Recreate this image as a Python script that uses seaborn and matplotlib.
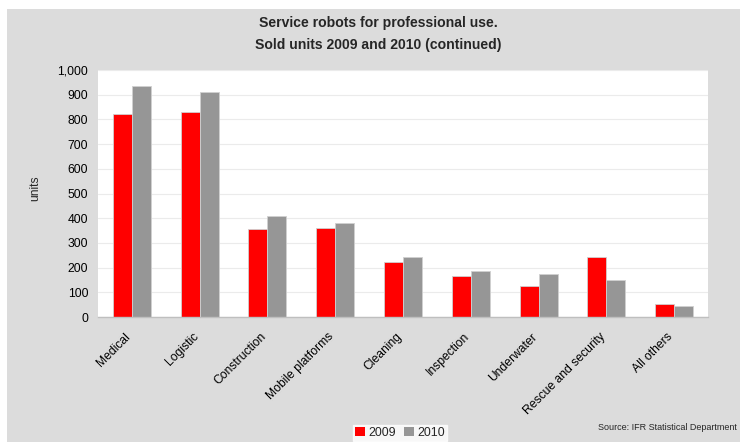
import matplotlib
matplotlib.use("Agg")
import matplotlib.pyplot as plt
import matplotlib.transforms as mtransforms
import seaborn as sns
import pandas as pd
from matplotlib.ticker import FuncFormatter, MultipleLocator
from matplotlib.patches import Patch, Rectangle

categories = ["Medical", "Logistic", "Construction", "Mobile platforms", "Cleaning",
              "Inspection", "Underwater", "Rescue and security", "All others"]
units_2009 = [820, 829, 357, 362, 221, 167, 126, 242, 52]
units_2010 = [934, 909, 407, 380, 242, 186, 174, 151, 45]
years = ["2009", "2010"]

df = pd.DataFrame({
    "category": categories * 2,
    "year": [years[0]] * len(categories) + [years[1]] * len(categories),
    "units": units_2009 + units_2010,
})

sns.set_theme(style="white")
plt.rcParams["font.family"] = ["Liberation Sans", "DejaVu Sans"]

bg = "#dcdcdc"
W, H = 740, 442
fig = plt.figure(figsize=(7.4, 4.42), dpi=100, facecolor="white")
fig.patches.append(Rectangle((7 / W, 0), 1 - 7 / W, 1 - 9 / H, transform=fig.transFigure,
                             facecolor=bg, edgecolor="none", zorder=-10))
ax = fig.add_axes([98 / W, 1 - 317 / H, 610 / W, 247 / H])
ax.set_facecolor("white")

sns.barplot(data=df, x="category", y="units", hue="year", order=categories,
            hue_order=years, palette={"2009": "#ff0000", "2010": "#969696"},
            saturation=1, width=0.56, gap=0, edgecolor="#d0d0d0", linewidth=0.6,
            ax=ax, legend=False)

ax.set_ylim(0, 1000)
ax.yaxis.set_major_locator(MultipleLocator(100))
ax.yaxis.set_major_formatter(FuncFormatter(lambda v, p: f"{int(v):,}"))
ax.grid(axis="y", color="#ebebeb", linewidth=0.8)
ax.set_axisbelow(True)
for s in ["top", "right", "left"]:
    ax.spines[s].set_visible(False)
ax.spines["bottom"].set_color("#bfbfbf")
ax.spines["bottom"].set_linewidth(1.0)
ax.tick_params(axis="y", length=0, labelsize=8.7, pad=7, colors="black")
ax.tick_params(axis="x", length=0, labelsize=8.7, pad=0, colors="black")
offset = mtransforms.ScaledTranslation(-3 / 100, -18 / 100, fig.dpi_scale_trans)
for lbl in ax.get_xticklabels():
    lbl.set_rotation(45)
    lbl.set_ha("right")
    lbl.set_va("center")
    lbl.set_rotation_mode("anchor")
    lbl.set_transform(lbl.get_transform() + offset)
ax.set_xlabel("")
ax.set_ylabel("")
fig.text(35 / W, 1 - 188 / H, "units", rotation=90, ha="center", va="center", fontsize=8.7)

fig.text(378 / W, 1 - 23.5 / H, "Service robots for professional use.",
         ha="center", va="center", fontsize=10.1, fontweight="bold")
fig.text(378 / W, 1 - 45.5 / H, "Sold units 2009 and 2010 (continued)",
         ha="center", va="center", fontsize=10.1, fontweight="bold")

fig.text(737 / W, 1 - 428 / H, "Source: IFR Statistical Department", ha="right",
         va="center", fontsize=6.5)

handles = [Patch(facecolor="#ff0000", edgecolor="none"), Patch(facecolor="#969696", edgecolor="none")]
leg = fig.legend(handles, years, loc="center", bbox_to_anchor=(400 / W, 1 - 433 / H),
                 ncol=2, frameon=True, fontsize=8.9, handlelength=0.8, handleheight=0.8,
                 handletextpad=0.3, columnspacing=0.6, borderpad=0.2, fancybox=False,
                 borderaxespad=0)
leg.get_frame().set_facecolor("white")
leg.get_frame().set_edgecolor("white")

fig.savefig("out.png", dpi=100, facecolor="white")
